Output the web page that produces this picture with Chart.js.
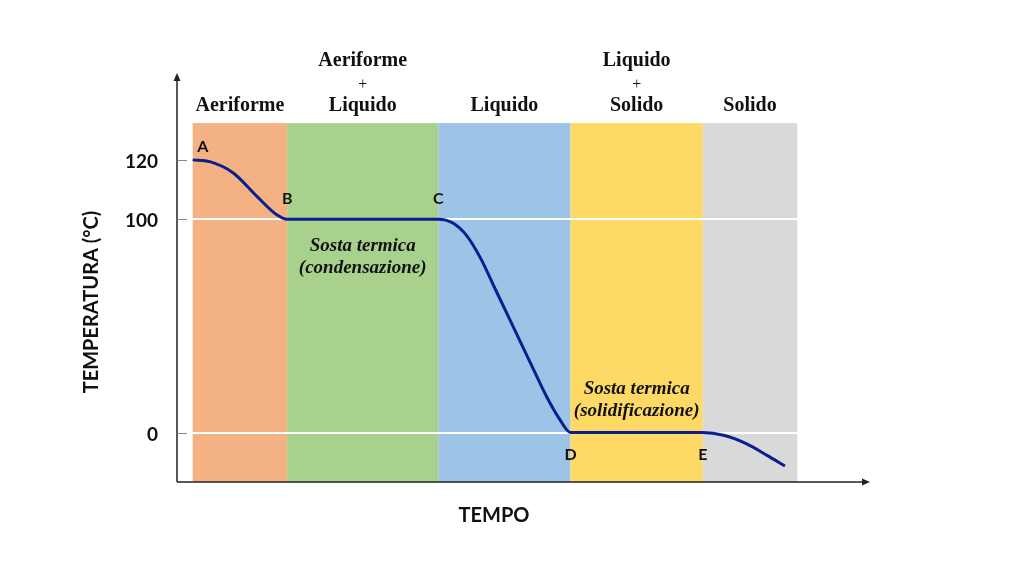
<!DOCTYPE html>
<html lang="it">
<head>
  <meta charset="UTF-8" />
  <title>Curva di raffreddamento</title>
  <script src="https://cdn.jsdelivr.net/npm/chart.js"></script>
  <style>
    body {
      margin: 0;
      padding: 0;
      background-color: #fff;
    }
    canvas {
      display: block;
    }
  </style>
</head>
<body>
  <canvas id="coolingChart" width="1024" height="576"></canvas>
  <script>
    // data (tempo in arbitrary units, temperatura in °C)
    const timeValues = [0, 1.8, 4.3, 6.8, 8.9, 10, 26, 27.5, 29, 30.5, 32, 34, 36, 37.5, 38.8, 40, 54, 56.2, 58.6, 60.8, 62.7];
    const temperatures = [120, 119.4, 115.6, 107.7, 101.5, 100, 100, 98.3, 92.3, 81.5, 67.5, 48.9, 30.3, 16.5, 6.5, 0, 0, -1.3, -5.2, -10.7, -15.7];
    const pointLetters = ['A', 'B', 'C', 'D', 'E'];
    const letterIndex = [0, 5, 6, 15, 16];
    const phaseEdges = [0, 10, 26, 40, 54, 64];
    const phaseLabels = [['Aeriforme'], ['Aeriforme', '+', 'Liquido'], ['Liquido'], ['Liquido', '+', 'Solido'], ['Solido']];
    const pauseLabels = [['Sosta termica', '(condensazione)'], ['Sosta termica', '(solidificazione)']];
    const pausePhase = [1, 3];
    const yTickValues = [0, 100, 120];

    const phaseColors = ['#f4b183', '#a9d18e', '#9dc3e6', '#ffd966', '#d9d9d9'];
    const sans = 'Lato, "Open Sans", sans-serif';
    const serif = '"Liberation Serif", "DejaVu Serif", serif';

    // the original sketch draws the part above 100 °C taller than the rest
    class StretchedScale extends Chart.LinearScale {
      transform(v) {
        const b = this.options.breakAt, k = this.options.stretch;
        return v <= b ? v : b + (v - b) * k;
      }
      getPixelForValue(value) {
        const lo = this.transform(this.min), hi = this.transform(this.max);
        return this.getPixelForDecimal((this.transform(value) - lo) / (hi - lo));
      }
      getValueForPixel(pixel) {
        const lo = this.transform(this.min), hi = this.transform(this.max);
        const t = lo + this.getDecimalForPixel(pixel) * (hi - lo);
        const b = this.options.breakAt, k = this.options.stretch;
        return t <= b ? t : b + (t - b) / k;
      }
    }
    StretchedScale.id = 'stretched';
    Chart.register(StretchedScale);

    function arrow(ctx, x, y, dir) {
      ctx.beginPath();
      if (dir === 'up') {
        ctx.moveTo(x, y);
        ctx.lineTo(x - 3.5, y + 8);
        ctx.lineTo(x + 3.5, y + 8);
      } else {
        ctx.moveTo(x, y);
        ctx.lineTo(x - 8, y - 3.5);
        ctx.lineTo(x - 8, y + 3.5);
      }
      ctx.closePath();
      ctx.fill();
    }

    const backdrop = {
      id: 'backdrop',
      beforeDatasetsDraw(chart) {
        const { ctx, chartArea, scales: { x, y } } = chart;
        const top = y.getPixelForValue(132.4);
        const bottom = chartArea.bottom;
        ctx.save();
        for (let i = 0; i < phaseColors.length; i++) {
          const x0 = x.getPixelForValue(phaseEdges[i]);
          const x1 = x.getPixelForValue(phaseEdges[i + 1]);
          ctx.fillStyle = phaseColors[i];
          ctx.fillRect(x0, top, x1 - x0, bottom - top);
        }
        // white reference lines at 0 and 100
        ctx.strokeStyle = '#fff';
        ctx.lineWidth = 2;
        [0, 100].forEach(v => {
          const py = Math.round(y.getPixelForValue(v));
          ctx.beginPath();
          ctx.moveTo(x.getPixelForValue(phaseEdges[0]), py);
          ctx.lineTo(x.getPixelForValue(phaseEdges[phaseEdges.length - 1]), py);
          ctx.stroke();
        });
        // axes with arrows
        ctx.strokeStyle = '#222';
        ctx.fillStyle = '#222';
        ctx.lineWidth = 1.5;
        ctx.beginPath();
        ctx.moveTo(chartArea.left, bottom);
        ctx.lineTo(chartArea.left, chartArea.top + 4);
        ctx.moveTo(chartArea.left, bottom);
        ctx.lineTo(chartArea.right - 4, bottom);
        ctx.stroke();
        arrow(ctx, chartArea.left, chartArea.top, 'up');
        arrow(ctx, chartArea.right, bottom, 'right');
        // tick marks and labels
        ctx.strokeStyle = '#888';
        ctx.lineWidth = 1;
        ctx.fillStyle = '#111';
        ctx.font = 'bold 19px ' + sans;
        ctx.textAlign = 'right';
        ctx.textBaseline = 'middle';
        yTickValues.forEach(v => {
          const py = Math.round(y.getPixelForValue(v)) + 0.5;
          ctx.beginPath();
          ctx.moveTo(chartArea.left, py);
          ctx.lineTo(chartArea.left + 10, py);
          ctx.stroke();
          ctx.fillText(String(v), chartArea.left - 19, py + 1);
        });
        ctx.restore();
      },
      afterDatasetsDraw(chart) {
        const { ctx, chartArea, scales: { x, y } } = chart;
        const top = y.getPixelForValue(132.4);
        ctx.save();
        ctx.fillStyle = '#111';
        ctx.textAlign = 'center';
        ctx.textBaseline = 'alphabetic';
        // phase names above the bands
        phaseLabels.forEach((lines, i) => {
          const cx = (x.getPixelForValue(phaseEdges[i]) + x.getPixelForValue(phaseEdges[i + 1])) / 2;
          lines.forEach((line, j) => {
            const by = top - 12 - (lines.length - 1 - j) * 22.5;
            ctx.font = (line === '+' ? '16px ' : 'bold 20px ') + serif;
            ctx.fillText(line, cx, by);
          });
        });
        // sosta termica captions
        ctx.font = 'italic bold 19px ' + serif;
        pauseLabels.forEach((lines, i) => {
          const p = pausePhase[i];
          const cx = (x.getPixelForValue(phaseEdges[p]) + x.getPixelForValue(phaseEdges[p + 1])) / 2;
          const base = i === 0 ? y.getPixelForValue(100) + 32 : y.getPixelForValue(0) - 39;
          lines.forEach((line, j) => ctx.fillText(line, cx, base + j * 22));
        });
        // point letters
        const pts = chart.getDatasetMeta(0).data;
        ctx.font = 'bold 16px ' + sans;
        ctx.textBaseline = 'middle';
        pointLetters.forEach((letter, i) => {
          const pt = pts[letterIndex[i]];
          const dx = i === 0 ? 10 : 0;
          const dy = i < 3 ? (i === 0 ? -13 : -20) : 22;
          ctx.fillText(letter, pt.x + dx, pt.y + dy);
        });
        // axis titles
        ctx.font = 'bold 20px ' + sans;
        ctx.fillText('TEMPO', 494, 516);
        ctx.translate(92, 302);
        ctx.rotate(-Math.PI / 2);
        ctx.font = 'bold 20px ' + sans;
        ctx.fillText('TEMPERATURA (°C)', 0, 0);
        ctx.restore();
      }
    };

    const ctx = document.getElementById('coolingChart').getContext('2d');
    new Chart(ctx, {
      type: 'line',
      data: {
        datasets: [{
          label: 'Temperatura',
          data: timeValues.map((t, i) => ({ x: t, y: temperatures[i] })),
          borderColor: '#0a1f8f',
          borderWidth: 3,
          pointRadius: 0,
          fill: false,
          cubicInterpolationMode: 'monotone'
        }]
      },
      options: {
        responsive: false,
        devicePixelRatio: 1,
        animation: false,
        layout: { padding: { left: 177, right: 154, top: 73, bottom: 94 } },
        plugins: {
          legend: { display: false },
          tooltip: { enabled: false }
        },
        scales: {
          x: { type: 'linear', min: -1.66, max: 71.7, display: false },
          y: { type: 'stretched', min: -23.2, max: 149.3, breakAt: 100, stretch: 1.39, display: false }
        }
      },
      plugins: [backdrop]
    });
  </script>
</body>
</html>
